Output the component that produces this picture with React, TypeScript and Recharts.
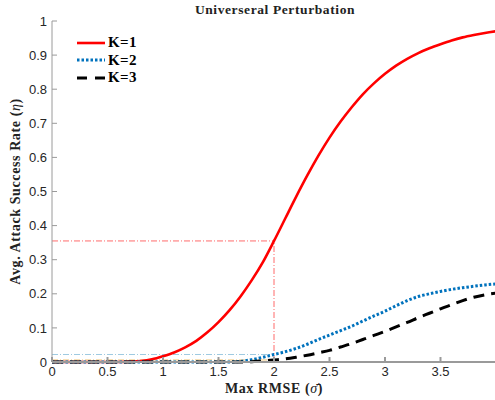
import React from "react";
import { LineChart, Line, XAxis, YAxis, ReferenceLine, Legend } from "recharts";

const rmse = [
    0, 0.1, 0.2, 0.3, 0.4, 0.5, 0.6, 0.7, 0.8, 0.9,
    1, 1.1, 1.2, 1.3, 1.4, 1.5, 1.6, 1.7, 1.8, 1.9,
    2, 2.1, 2.2, 2.3, 2.4, 2.5, 2.6, 2.7, 2.8, 2.9,
    3, 3.1, 3.2, 3.3, 3.4, 3.5, 3.6, 3.7, 3.8, 3.9, 4,
];

const k1 = [
    0, 0, 0, 0, 0, 0, 0, 0.001, 0.003, 0.008,
    0.017, 0.028, 0.043, 0.062, 0.087, 0.117, 0.152, 0.193, 0.24, 0.293,
    0.355, 0.42, 0.485, 0.547, 0.605, 0.658, 0.705, 0.747, 0.785, 0.817,
    0.845, 0.869, 0.889, 0.906, 0.92, 0.932, 0.943, 0.952, 0.959, 0.965, 0.97,
];

const k2 = [
    0, 0, 0, 0, 0, 0, 0, 0, 0, 0,
    0, 0, 0, 0, 0, 0, 0, 0.002, 0.007, 0.014,
    0.022, 0.03, 0.04, 0.052, 0.066, 0.079, 0.092, 0.105, 0.12, 0.135,
    0.149, 0.165, 0.18, 0.192, 0.2, 0.207, 0.213, 0.218, 0.222, 0.226, 0.229,
];

const k3 = [
    0, 0, 0, 0, 0, 0, 0, 0, 0, 0,
    0, 0, 0, 0, 0, 0, 0, 0, 0.001, 0.003,
    0.006, 0.009, 0.014, 0.02, 0.027, 0.034, 0.044, 0.054, 0.066, 0.078,
    0.09, 0.103, 0.116, 0.13, 0.143, 0.156, 0.168, 0.18, 0.19, 0.197, 0.202,
];

const xTicks = [0, 0.5, 1, 1.5, 2, 2.5, 3, 3.5];
const yTicks = [0, 0.1, 0.2, 0.3, 0.4, 0.5, 0.6, 0.7, 0.8, 0.9, 1];

// rate at the 2-sigma threshold, per K
const markX = 2;
const markY = [0.355, 0.022, 0.006];
const markColors = ["#ff6b6b", "#9ecae1", "#f2c77a"];

const series = [
    { key: "k1", name: "K=1", color: "#ff0000", dash: undefined, width: 2.6 },
    { key: "k2", name: "K=2", color: "#0072bd", dash: "2.5 2", width: 3 },
    { key: "k3", name: "K=3", color: "#000000", dash: "11 7", width: 3 },
];

const data = rmse.map((x, i) => ({ x, k1: k1[i], k2: k2[i], k3: k3[i] }));

const serif = "'Liberation Serif', 'DejaVu Serif', serif";
const sans = "'Liberation Sans', Arial, sans-serif";
const axisGray = "#9a9a9a";

const LegendBox = () => (
    <div style={{ fontFamily: serif, fontWeight: "bold", fontSize: 15, color: "#000", letterSpacing: 0.4 }}>
        {series.map((s) => (
            <div key={s.key} style={{ display: "flex", alignItems: "center", height: 17.5 }}>
                <svg width={30} height={6} style={{ marginRight: 2 }}>
                    <line x1={1} y1={3} x2={29} y2={3} stroke={s.color} strokeWidth={s.width} strokeDasharray={s.key === "k3" ? "10 8" : s.dash} />
                </svg>
                <span>{s.name}</span>
            </div>
        ))}
    </div>
);

const App = () => {
    return (
        <div style={{ position: "absolute", left: 0, top: 0, width: 495, height: 400, overflow: "hidden", background: "#fff" }}>
            <LineChart width={500} height={400} data={data} margin={{ top: 21, right: 4, bottom: 0, left: 0 }}>
                <text x={275} y={14} textAnchor="middle" fontFamily={serif} fontWeight="bold" fontSize={13.5} letterSpacing={0.6} fill="#222">
                    Universeral Perturbation
                </text>
                <XAxis
                    dataKey="x"
                    type="number"
                    domain={[0, 4]}
                    ticks={xTicks}
                    height={38}
                    stroke={axisGray}
                    strokeWidth={2}
                    tickSize={-5}
                    tickMargin={10}
                    tick={{ fill: "#262626", fontSize: 13, fontFamily: sans }}
                    label={{
                        content: (p: any) => {
                            const vb = p.viewBox;
                            return (
                                <text x={vb.x + vb.width / 2} y={vb.y + 31} textAnchor="middle" fontFamily={serif} fontWeight="bold" fontSize={14} letterSpacing={0.6} fill="#222">
                                    Max RMSE (<tspan fontStyle="italic" fontWeight="normal">σ̄</tspan>)
                                </text>
                            );
                        },
                    }}
                />
                <XAxis
                    xAxisId="top"
                    orientation="top"
                    dataKey="x"
                    type="number"
                    domain={[0, 4]}
                    ticks={xTicks}
                    height={0}
                    stroke={axisGray}
                    tickSize={-5}
                    tickFormatter={() => ""}
                />
                <YAxis
                    type="number"
                    domain={[0, 1]}
                    ticks={yTicks}
                    width={52}
                    stroke={axisGray}
                    tickSize={-5}
                    tickMargin={10}
                    tick={{ fill: "#262626", fontSize: 13, fontFamily: sans }}
                    label={{
                        content: (p: any) => {
                            const vb = p.viewBox;
                            const cy = vb.y + vb.height / 2;
                            return (
                                <text x={17} y={cy} transform={`rotate(-90 17 ${cy})`} textAnchor="middle" dominantBaseline="middle" fontFamily={serif} fontWeight="bold" fontSize={14} letterSpacing={0.6} fill="#222">
                                    Avg. Attack Success Rate (<tspan fontStyle="italic" fontWeight="normal">η</tspan>)
                                </text>
                            );
                        },
                    }}
                />
                <YAxis
                    yAxisId="right"
                    orientation="right"
                    type="number"
                    domain={[0, 1]}
                    ticks={yTicks}
                    width={0}
                    stroke={axisGray}
                    tickSize={-5}
                    tickFormatter={() => ""}
                />
                {markY.map((y, i) => (
                    <ReferenceLine
                        key={`h-${i}`}
                        segment={[{ x: 0, y }, { x: markX, y }]}
                        stroke={markColors[i]}
                        strokeWidth={1}
                        strokeDasharray="6 2 1 2"
                    />
                ))}
                <ReferenceLine
                    segment={[{ x: markX, y: 0 }, { x: markX, y: markY[0] }]}
                    stroke={markColors[0]}
                    strokeWidth={1}
                    strokeDasharray="6 2 1 2"
                />
                {series.map((s) => (
                    <Line
                        key={s.key}
                        type="monotone"
                        dataKey={s.key}
                        name={s.name}
                        stroke={s.color}
                        strokeWidth={s.width}
                        strokeDasharray={s.dash}
                        dot={false}
                        isAnimationActive={false}
                    />
                ))}
                <Legend
                    layout="horizontal"
                    verticalAlign="middle"
                    align="center"
                    content={() => <LegendBox />}
                    wrapperStyle={{ position: "absolute", top: 34, left: 76, width: "auto" }}
                />
            </LineChart>
        </div>
    );
};

export default App;
